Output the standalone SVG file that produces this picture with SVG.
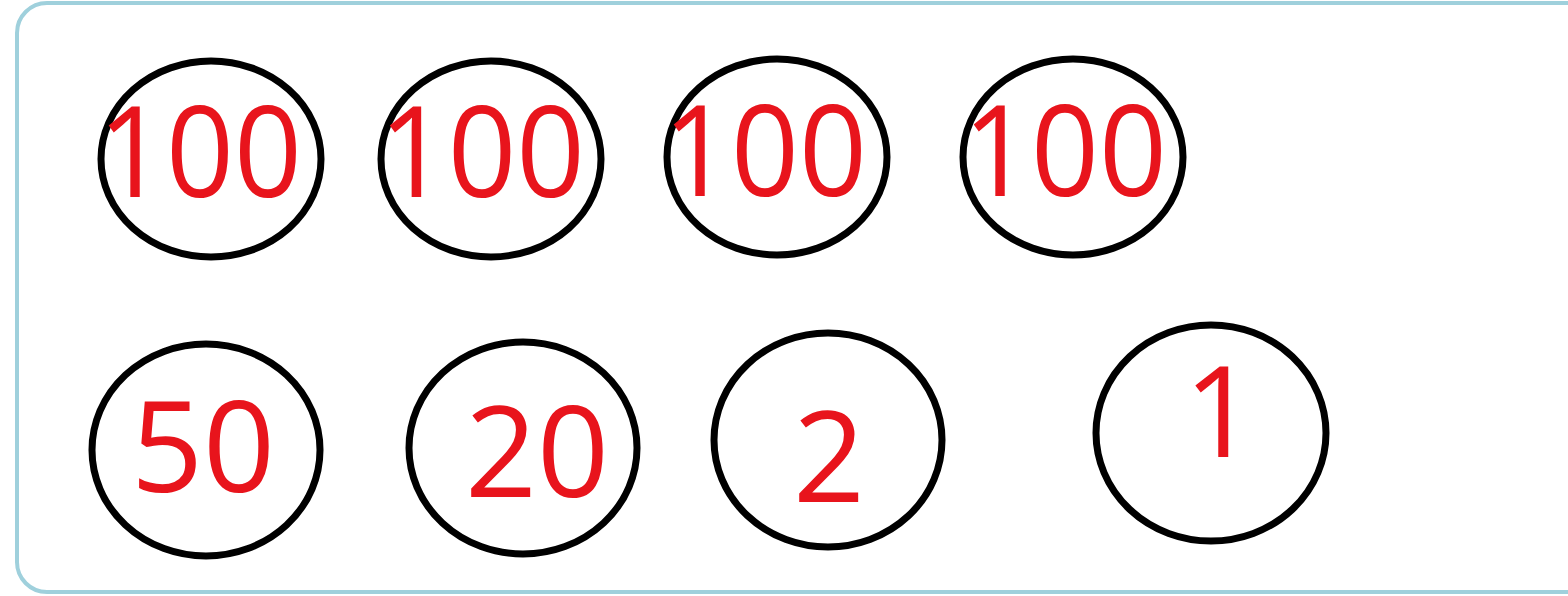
<svg xmlns="http://www.w3.org/2000/svg" width="1568" height="596" viewBox="0 0 1568 596">
<style>
.frame{fill:#ffffff;stroke:#9fd0dc;stroke-width:4}
.n ellipse{fill:none;stroke:#000;stroke-width:7}
.n text{font-family:"Open Sans","Noto Sans",sans-serif;font-size:126px;fill:#e8141c;text-anchor:middle}
</style>
<rect width="1568" height="596" fill="#ffffff"/>
<rect class="frame" x="17" y="3" width="1580" height="589" rx="30" ry="30"/>
<g id="connectors"></g>
<g id="n1" class="n"><ellipse cx="211" cy="159" rx="110" ry="98"/><text x="200" y="197" textLength="204" lengthAdjust="spacingAndGlyphs">100</text></g>
<g id="n2" class="n"><ellipse cx="491" cy="159" rx="110" ry="98"/><text x="482" y="197" textLength="206" lengthAdjust="spacingAndGlyphs">100</text></g>
<g id="n3" class="n"><ellipse cx="777" cy="157" rx="110" ry="98"/><text x="765" y="196" textLength="204" lengthAdjust="spacingAndGlyphs">100</text></g>
<g id="n4" class="n"><ellipse cx="1073" cy="157" rx="110" ry="98"/><text x="1065" y="196" textLength="204" lengthAdjust="spacingAndGlyphs">100</text></g>
<g id="n5" class="n"><ellipse cx="206" cy="450" rx="114" ry="106"/><text x="203" y="492">50</text></g>
<g id="n6" class="n"><ellipse cx="523" cy="448" rx="114" ry="106"/><text x="537" y="497">20</text></g>
<g id="n7" class="n"><ellipse cx="828" cy="440" rx="114" ry="107"/><text x="829" y="502">2</text></g>
<g id="n8" class="n"><ellipse cx="1211" cy="433" rx="115" ry="108"/><text x="1220" y="457">1</text></g>
</svg>
